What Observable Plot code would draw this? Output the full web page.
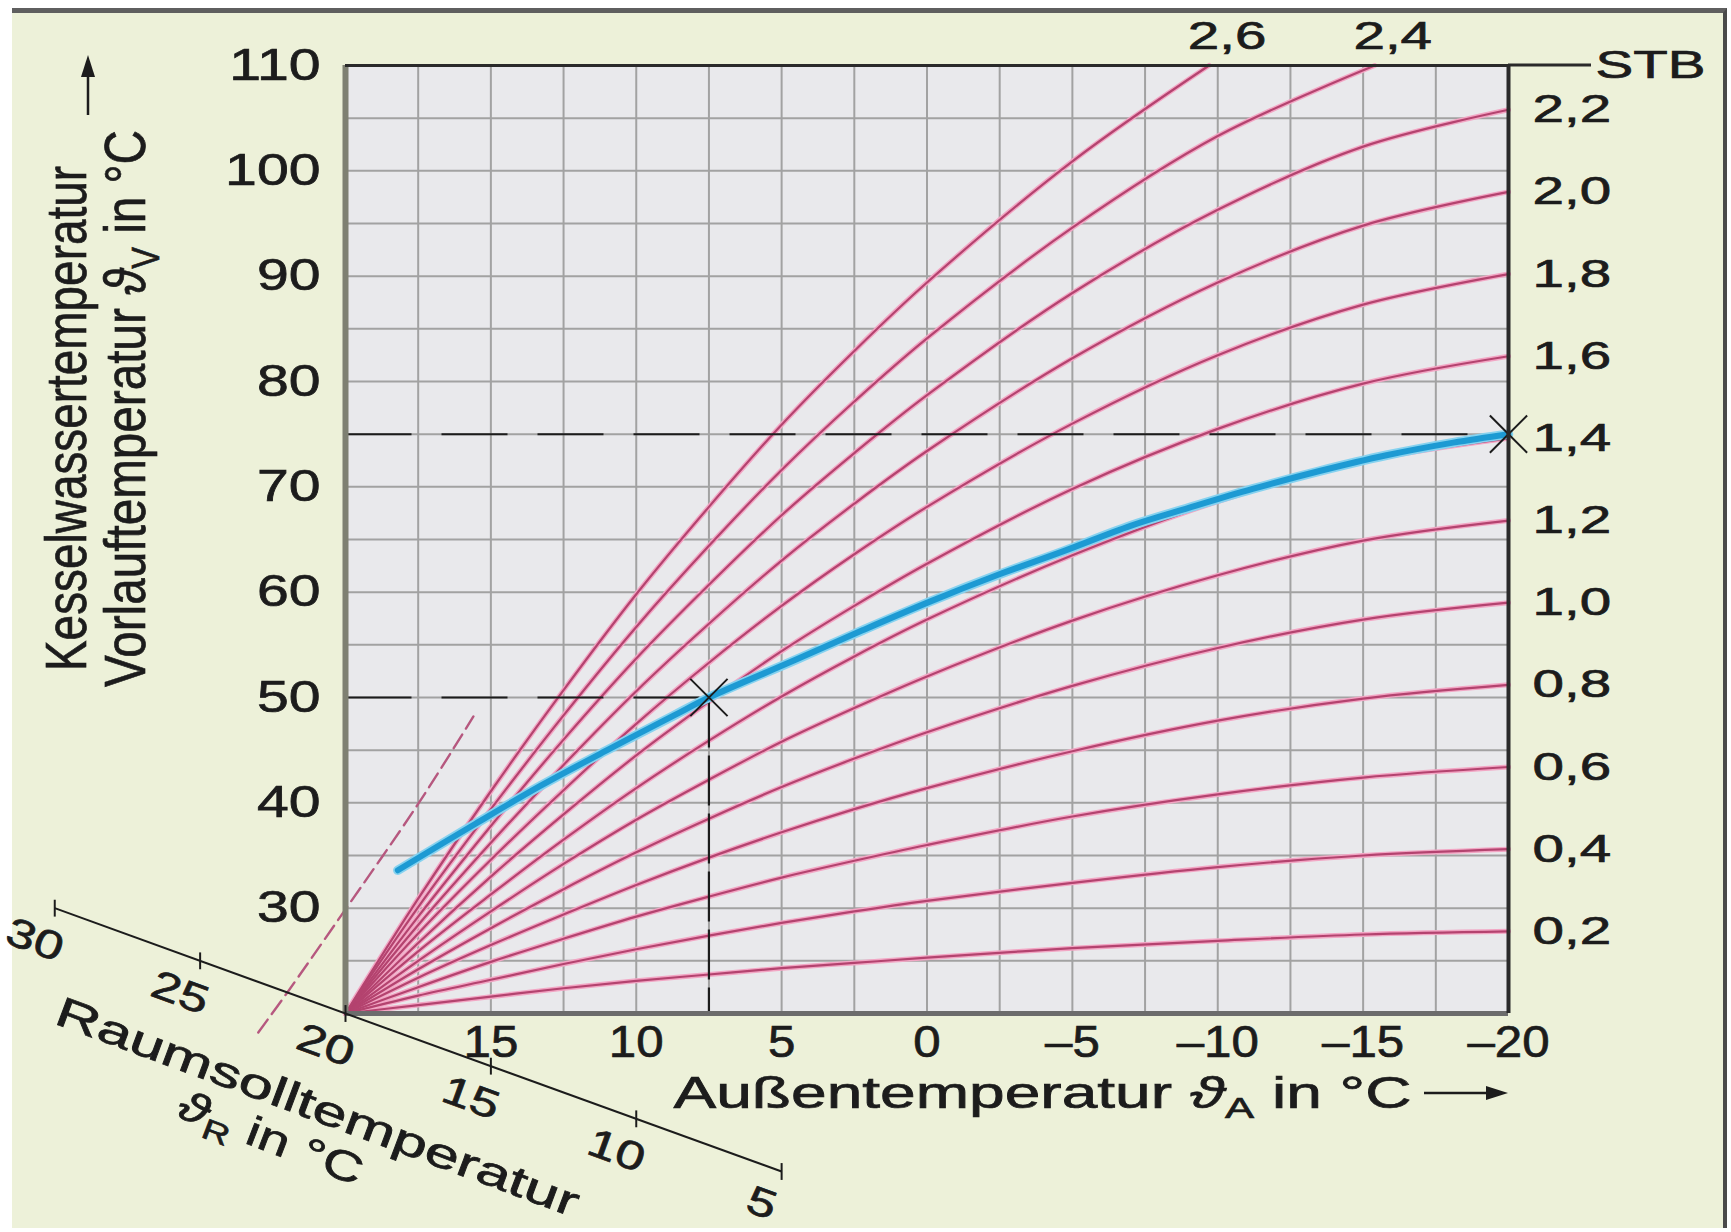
<!DOCTYPE html>
<html><head><meta charset="utf-8">
<script src="https://cdn.jsdelivr.net/npm/d3@7"></script>
<script src="https://cdn.jsdelivr.net/npm/@observablehq/plot@0.6"></script>
<style>
html,body{margin:0;padding:0;background:#ffffff;}
#wrap{position:relative;width:1731px;height:1232px;overflow:hidden;background:#fff;}
#panel{position:absolute;left:12px;top:8px;width:1711px;height:1215px;background:#edf1d9;border-top:5px solid #5f5f5f;border-right:4px solid #4a4a4a;}
#chart{position:absolute;left:0;top:0;}
#chart svg text{stroke:#1c1c1c;stroke-width:0.7px;}
</style></head><body>
<div id="wrap"><div id="panel"></div><div id="chart"></div></div>
<script>
// ---- data ----
const outdoorTemps   = [20, 17.5, 15, 12.5, 10, 7.5, 5, 2.5, 0, -5, -10, -15, -20];
const outdoorTemps24 = [20, 17.5, 15, 12.5, 10, 7.5, 5, 2.5, 0, -5, -10, -15.4];
const outdoorTemps26 = [20, 17.5, 15, 12.5, 10, 7.5, 5, 2.5, 0, -5, -9.7];

const curve02 = [20, 20.8, 21.6, 22.4, 23.1, 23.7, 24.3, 24.8, 25.3, 26.2, 26.9, 27.5, 27.8];
const curve04 = [20, 21.7, 23.2, 24.7, 26.1, 27.4, 28.6, 29.7, 30.7, 32.4, 33.9, 35.0, 35.6];
const curve06 = [20, 22.5, 24.9, 27.1, 29.2, 31.1, 32.9, 34.5, 36.0, 38.7, 40.8, 42.4, 43.4];
const curve08 = [20, 23.4, 26.5, 29.4, 32.2, 34.8, 37.2, 39.4, 41.4, 44.9, 47.8, 49.9, 51.2];
const curve10 = [20, 24.2, 28.1, 31.8, 35.3, 38.5, 41.5, 44.2, 46.7, 51.1, 54.7, 57.4, 59.0];
const curve12 = [20, 25.0, 29.7, 34.2, 38.4, 42.2, 45.8, 49.0, 52.0, 57.3, 61.6, 64.9, 66.8];
const curve14 = [20, 25.9, 31.3, 36.5, 41.4, 45.9, 50.1, 53.9, 57.4, 63.5, 68.6, 72.4, 74.6];
const curve16 = [20, 26.7, 33.0, 38.9, 44.5, 49.6, 54.4, 58.7, 62.7, 69.8, 75.5, 79.8, 82.4];
const curve18 = [20, 27.6, 34.6, 41.2, 47.5, 53.3, 58.7, 63.6, 68.1, 76.0, 82.5, 87.3, 90.2];
const curve20 = [20, 28.4, 36.2, 43.6, 50.6, 57.0, 63.0, 68.4, 73.4, 82.2, 89.4, 94.8, 98.0];
const curve22 = [20, 29.2, 37.8, 46.0, 53.7, 60.7, 67.3, 73.2, 78.7, 88.4, 96.3, 102.3, 105.8];
const curve24 = [20, 30.1, 39.4, 48.3, 56.7, 64.4, 71.6, 78.1, 84.1, 94.6, 103.3, 110];
const curve26 = [20, 30.9, 41.1, 50.7, 59.8, 68.1, 75.9, 82.9, 89.4, 100.9, 110];

const slopeLabels = ["0,2","0,4","0,6","0,8","1,0","1,2","1,4","1,6","1,8","2,0","2,2","2,4","2,6"];

// highlighted (blue) heating curve
const blueX = [18.2, 15.6, 13.3, 11.0, 8.7, 7.5, 4.5, 2.2, -0.1, -2.4, -4.7, -7.0, -9.0, -11.2, -13.5, -15.8, -18.1, -20];
const blueY = [33.6, 37.9, 41.6, 45.0, 48.3, 50.0, 53.6, 56.4, 59.1, 61.6, 63.9, 66.3, 68.0, 69.8, 71.5, 73.0, 74.2, 75.0];

// dashed (shifted) curve at the left
const dashX = [23.0, 22.0, 20.2, 17.5, 15.6];
const dashY = [18.2, 22.0, 29.1, 39.9, 48.2];

// operating points (crosses)
const markX = [7.5, -20];
const markY = [50, 75];

// axes
const xTicks = [15, 10, 5, 0, -5, -10, -15, -20];
const yTicks = [30, 40, 50, 60, 70, 80, 90, 100, 110];
const gridXValues = [17.5, 15, 12.5, 10, 7.5, 5, 2.5, 0, -2.5, -5, -7.5, -10, -12.5, -15, -17.5];
const gridYValues = [25, 30, 35, 40, 45, 50, 55, 60, 65, 70, 75, 80, 85, 90, 95, 100, 105];
const roomTicks = [30, 25, 20, 15, 10, 5];

// ---- build tables ----
const curveYs = [curve02, curve04, curve06, curve08, curve10, curve12, curve14, curve16, curve18, curve20, curve22, curve24, curve26];
const curveXs = curveYs.map((c, i) => i === 11 ? outdoorTemps24 : i === 12 ? outdoorTemps26 : outdoorTemps);
const pinkRows = slopeLabels.flatMap((label, i) => curveYs[i].map((y, j) => ({label, x: curveXs[i][j], y})));
const endRows = slopeLabels.map((label, i) => ({label, x: curveXs[i][curveXs[i].length - 1], y: curveYs[i][curveYs[i].length - 1]}));
const sideRows = endRows.filter(d => d.x === -20);
const topRows = endRows.filter(d => d.x !== -20);
const blueRows = blueX.map((x, i) => ({x, y: blueY[i]}));
const dashRows = dashX.map((x, i) => ({x, y: dashY[i]}));
const markRows = markX.map((x, i) => ({x, y: markY[i]}));

const ink = "#1c1c1c";

const chart = Plot.plot({
  width: 1731, height: 1232,
  marginLeft: 345, marginRight: 223, marginTop: 65, marginBottom: 219,
  x: {domain: [20, -20]},
  y: {domain: [20, 110]},
  style: {fontFamily: "'Liberation Sans', Arial, sans-serif", background: "transparent", color: ink},
  marks: [
    Plot.frame({fill: "#e9e9ec", stroke: null}),
    Plot.ruleX(gridXValues, {stroke: "#a2a2a2", strokeWidth: 2}),
    Plot.ruleY(gridYValues, {stroke: "#a2a2a2", strokeWidth: 2}),
    Plot.line(pinkRows, {x: "x", y: "y", z: "label", curve: "catmull-rom", stroke: "#f2a6c4", strokeWidth: 5}),
    Plot.line(pinkRows, {x: "x", y: "y", z: "label", curve: "catmull-rom", stroke: "#b4436f", strokeWidth: 2.2}),
    Plot.line(dashRows, {x: "x", y: "y", curve: "catmull-rom", stroke: "#b6587f", strokeWidth: 2.4, strokeDasharray: "16,7"}),
    Plot.link(markRows, {x1: 20, y1: "y", x2: "x", y2: "y", stroke: ink, strokeWidth: 2, strokeDasharray: "66,30"}),
    Plot.link(markRows.filter(d => d.x !== -20), {x1: "x", y1: "y", x2: "x", y2: 20, stroke: ink, strokeWidth: 2.2, strokeDasharray: "50,8"}),
    Plot.line(blueRows, {x: "x", y: "y", curve: "catmull-rom", stroke: "#86d2ef", strokeWidth: 9.5}),
    Plot.line(blueRows, {x: "x", y: "y", curve: "catmull-rom", stroke: "#1d9ad3", strokeWidth: 6}),
    Plot.dot(markRows, {x: "x", y: "y", symbol: "times", r: 17, stroke: ink, strokeWidth: 2}),
    // frame edges
    Plot.ruleX([20], {stroke: "#7e8072", strokeWidth: 6}),
    Plot.ruleY([20], {stroke: "#6c6c6c", strokeWidth: 5}),
    Plot.ruleX([-20], {stroke: "#2a2a2a", strokeWidth: 4}),
    Plot.ruleY([110], {stroke: "#2a2a2a", strokeWidth: 3}),
    // room set temperature scale (diagonal)
    Plot.link([roomTicks], {x1: d => d3.max(d), y1: d => d3.max(d), x2: d => d3.min(d), y2: d => d3.min(d), stroke: ink, strokeWidth: 2}),
    Plot.link(roomTicks, {x1: d => d, x2: d => d, y1: d => d - 0.8, y2: d => d + 0.8, stroke: ink, strokeWidth: 2}),
    Plot.text(roomTicks, {x: d => d, y: d => d, text: d => String(d), rotate: 20, dx: -20, dy: 32, fontSize: 40, fill: ink}),
    // labels
    Plot.text(sideRows, {x: "x", y: "y", text: "label", dx: 24, textAnchor: "start", fontSize: 39, fill: ink}),
    Plot.text(topRows, {x: "x", y: "y", text: "label", dx: 18, dy: -29, fontSize: 39, fill: ink}),
    Plot.text(["STB"], {frameAnchor: "top-right", text: d => d, dx: 87, textAnchor: "start", lineAnchor: "middle", fontSize: 39, fill: ink}),
    Plot.text(["Außentemperatur ϑ_A in °C"], {frameAnchor: "bottom-left", text: d => d, dx: 328, dy: 80, textAnchor: "start", lineAnchor: "middle", fontSize: 44, fill: ink}),
    Plot.text(["Raumsolltemperatur"], {frameAnchor: "bottom-left", text: d => d, dx: -28, dy: 94, rotate: 20.5, textAnchor: "middle", lineAnchor: "middle", fontSize: 42, fill: ink}),
    Plot.text(["ϑ_R in °C"], {frameAnchor: "bottom-left", text: d => d, dx: -75, dy: 125, rotate: 21, textAnchor: "middle", lineAnchor: "middle", fontSize: 42, fill: ink}),
    Plot.text(["Kesselwassertemperatur"], {frameAnchor: "left", text: d => d, dx: -278, dy: -121, rotate: -90, textAnchor: "middle", lineAnchor: "middle", fontSize: 58, fill: ink}),
    Plot.text(["Vorlauftemperatur ϑ_V in °C"], {frameAnchor: "left", text: d => d, dx: -219, dy: -131, rotate: -90, textAnchor: "middle", lineAnchor: "middle", fontSize: 58, fill: ink}),
    // axes
    Plot.axisY({ticks: yTicks, tickSize: 0, tickPadding: 25, fontSize: 44, label: null}),
    Plot.axisX({ticks: xTicks, tickSize: 0, tickPadding: 12, fontSize: 44, label: null,
      tickFormat: d => d < 0 ? "–" + Math.abs(d) : String(d)})
  ]
});
document.getElementById("chart").append(chart);

const svg = chart.tagName.toLowerCase() === "svg" ? chart : chart.querySelector("svg");
const NS = "http://www.w3.org/2000/svg";

// subscripts (ϑ_V, ϑ_A, ϑ_R)
svg.querySelectorAll("text").forEach(t => {
  const s = t.textContent;
  const m = s.match(/^(.*)ϑ_(\w)(.*)$/);
  if (!m) return;
  const fs = parseFloat(getComputedStyle(t).fontSize);
  t.textContent = "";
  const mk = (txt, attrs) => { const e = document.createElementNS(NS, "tspan"); e.textContent = txt; for (const k in attrs) e.setAttribute(k, attrs[k]); t.append(e); };
  if (m[1]) mk(m[1], {});
  mk("ϑ", {"font-style": "italic"});
  mk(m[2], {"font-size": (fs * 0.68).toFixed(1), dy: (fs * 0.24).toFixed(1)});
  mk(m[3], {dy: (-fs * 0.24).toFixed(1)});
});

// horizontal widening to match the (wide) lettering of the reference
const setLen = (t, L) => { t.setAttribute("textLength", (+L).toFixed(1)); t.setAttribute("lengthAdjust", "spacingAndGlyphs"); };
const roomSet = roomTicks.map(String);
svg.querySelectorAll("text").forEach(t => {
  const g = t.closest("g[aria-label]");
  const lab = g ? g.getAttribute("aria-label") : "";
  const s = t.textContent;
  const L = t.getComputedTextLength();
  if (lab.includes("y-axis")) return setLen(t, L * 1.3);
  if (lab.includes("x-axis")) return setLen(t, L * 1.12);
  if (slopeLabels.includes(s) || s === "STB") return setLen(t, L * 1.45);
  if (roomSet.includes(s)) return setLen(t, L * 1.3);
  if (s.startsWith("Außen")) return setLen(t, 738);
  if (s === "Raumsolltemperatur") return setLen(t, 555);
  if (s.startsWith("ϑR")) return setLen(t, 195);
  if (s === "Kesselwassertemperatur") return setLen(t, 505);
  if (s.startsWith("Vorlauf")) return setLen(t, 557);
});

// decorations: arrows of the axis titles and the extension of the top edge
const X = chart.scale("x"), Y = chart.scale("y");
const deco = d3.select(svg).append("g");
const xr = X.apply(-20), xl = X.apply(20), yt = Y.apply(110), yb = Y.apply(20);
deco.append("line").attr("x1", xr).attr("x2", xr + 83).attr("y1", yt).attr("y2", yt).attr("stroke", "#2a2a2a").attr("stroke-width", 3);
// x-title arrow
const ay = yb + 80;
deco.append("line").attr("x1", xr - 84).attr("x2", xr - 16).attr("y1", ay).attr("y2", ay).attr("stroke", ink).attr("stroke-width", 2.5);
deco.append("path").attr("d", `M${xr},${ay} L${xr - 22},${ay - 7} L${xr - 22},${ay + 7} Z`).attr("fill", ink);
// y-title arrow
const axx = xl - 257, tip = yt - 10;
deco.append("line").attr("x1", axx).attr("x2", axx).attr("y1", tip + 60).attr("y2", tip + 16).attr("stroke", ink).attr("stroke-width", 2.5);
deco.append("path").attr("d", `M${axx},${tip} L${axx - 7},${tip + 22} L${axx + 7},${tip + 22} Z`).attr("fill", ink);
</script>
</body></html>
